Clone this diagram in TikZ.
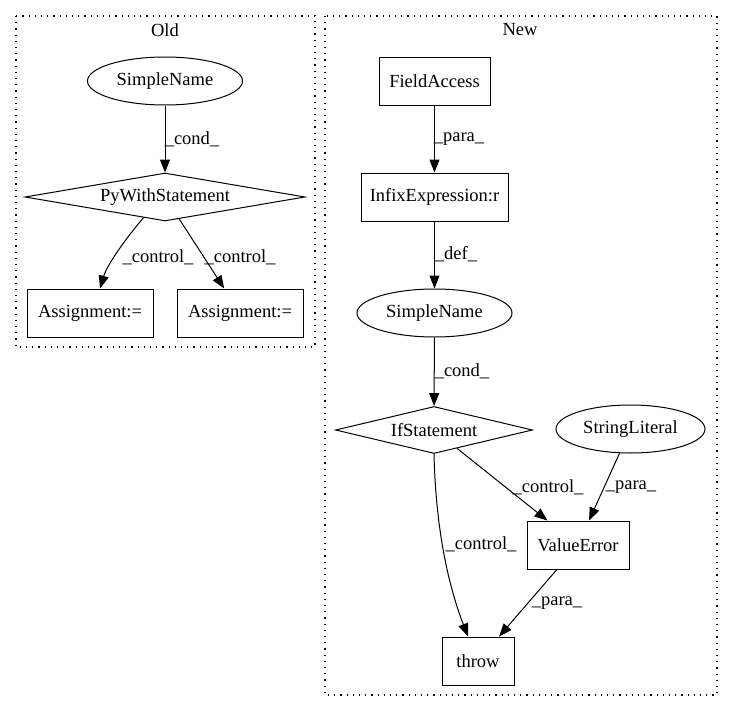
\documentclass[tikz,border=0pt]{standalone}
\usepackage{fontspec}
\setmainfont{Liberation Serif}
\usetikzlibrary{shapes.geometric,arrows.meta}
\begin{document}
\begin{tikzpicture}[x=1pt,y=-1pt,
  every node/.style={font=\fontsize{18.5}{20}\selectfont, inner sep=0pt},
  box/.style={draw, line width=0.95pt, rectangle, minimum height=48pt},
  ell/.style={draw, line width=1pt, ellipse, minimum height=48pt},
  dia/.style={draw, line width=1pt, diamond},
  edge/.style={line width=1pt, -{Triangle[length=13pt,width=10pt]}},
  cluster/.style={draw, line width=1.2pt, dash pattern=on 1.2pt off 5pt},
  lbl/.style={font=\fontsize{18.5}{20}\selectfont}
]
\useasboundingbox (0,0) rectangle (732,712);
% clusters
\draw[cluster] (16,16) rectangle (315,347);
\node (oldt) at (165,30) {Old};
\draw[cluster] (325,16) rectangle (717,695);
\node (newt) at (520,30) {New};

% Old
\node[ell, minimum width=155pt] (sn1) at (165,81) {SimpleName};
\node[dia, aspect=5.83, minimum width=280pt, minimum height=48pt] (pws) at (165,197) {PyWithStatement};
\node[box, minimum width=126pt] (as1) at (90,313) {Assignment:=};
\node[box, minimum width=126pt] (as2) at (240,313) {Assignment:=};
\draw[edge] (sn1) -- (pws);
\draw[edge] (pws.224) .. controls (126,238) and (107,265) .. ([xshift=10pt]as1.north);
\draw[edge] (pws) -- (as2);
\node[lbl] (l1) at (192,139) {\_cond\_};
\node[lbl] (l2) at (158,257) {\_control\_};
\node[lbl] (l3) at (240,257) {\_control\_};

% New
\node[box, minimum width=111pt] (fa) at (434.5,81) {FieldAccess};
\node[box, minimum width=147pt] (ie) at (434.5,197) {InfixExpression:r};
\node[ell, minimum width=155pt] (sn2) at (434.5,313) {SimpleName};
\node[dia, aspect=4.19, minimum width=197pt, minimum height=47pt] (ifs) at (434,430) {IfStatement};
\node[ell, minimum width=149pt] (sl) at (630.5,429) {StringLiteral};
\node[box, minimum width=102pt] (ve) at (578,545) {ValueError};
\node[box, minimum width=72pt] (th) at (478,661) {throw};
\draw[edge] (fa) -- (ie);
\draw[edge] (ie) -- (sn2);
\draw[edge] (sn2) -- (ifs);
\draw[edge] (ifs) -- (ve);
\draw[edge] (sl) -- (ve);
\draw[edge] (ifs.south) .. controls (436,540) and (452,595) .. ([xshift=-10pt]th.north);
\draw[edge] (ve) -- (th);
\node[lbl] (l4) at (459,139) {\_para\_};
\node[lbl] (l5) at (456,254) {\_def\_};
\node[lbl] (l6) at (462,371) {\_cond\_};
\node[lbl] (l7) at (548,487) {\_control\_};
\node[lbl] (l8) at (631,487) {\_para\_};
\node[lbl] (l9) at (481,544) {\_control\_};
\node[lbl] (l10) at (557,603) {\_para\_};
\end{tikzpicture}
\end{document}
